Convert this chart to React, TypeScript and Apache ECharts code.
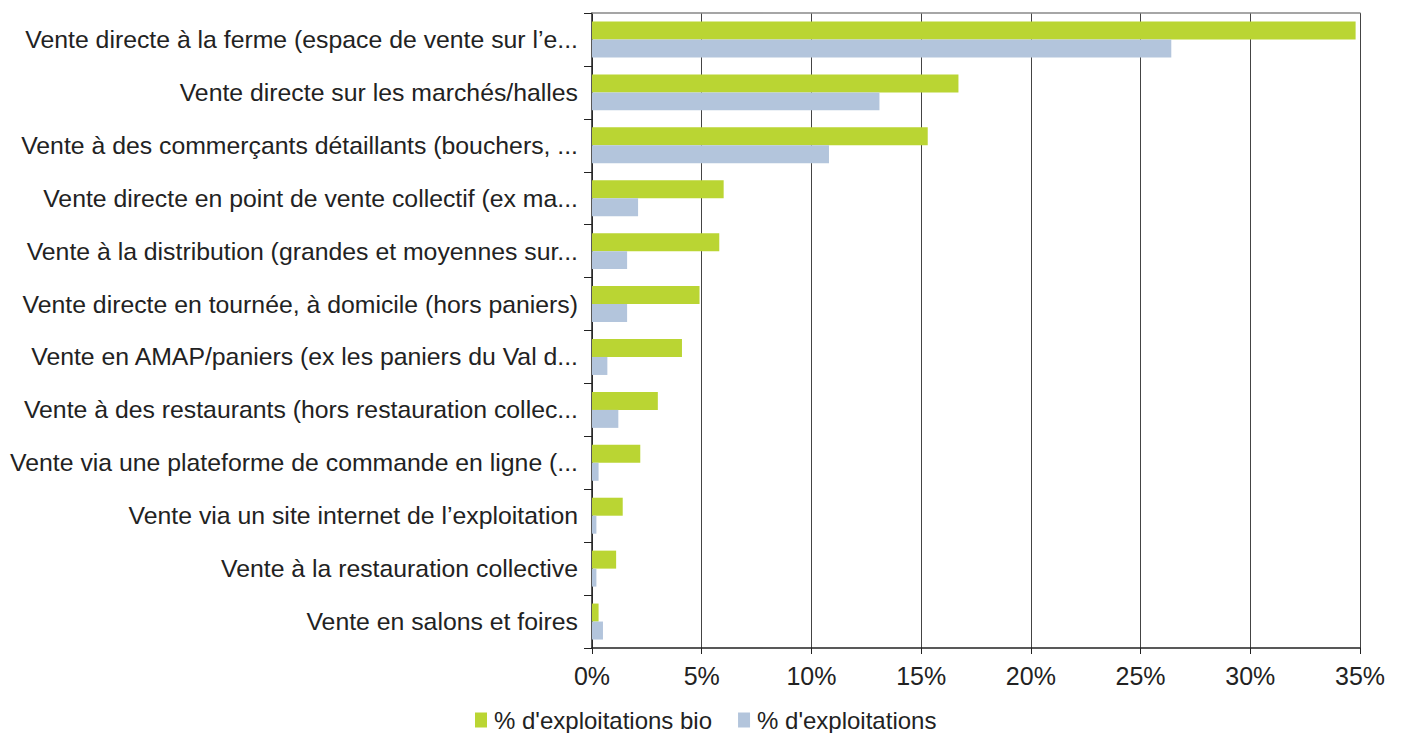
import React, { useEffect, useRef } from "react";
import * as echarts from "echarts";

const categories = [
  "Vente directe à la ferme (espace de vente sur l’e...",
  "Vente directe sur les marchés/halles",
  "Vente à des commerçants détaillants (bouchers, ...",
  "Vente directe en point de vente collectif (ex ma...",
  "Vente à la distribution (grandes et moyennes sur...",
  "Vente directe en tournée, à domicile (hors paniers)",
  "Vente en AMAP/paniers (ex les paniers du Val d...",
  "Vente à des restaurants (hors restauration collec...",
  "Vente via une plateforme de commande en ligne (...",
  "Vente via un site internet de l’exploitation",
  "Vente à la restauration collective",
  "Vente en salons et foires",
];

const bioValues = [34.8, 16.7, 15.3, 6.0, 5.8, 4.9, 4.1, 3.0, 2.2, 1.4, 1.1, 0.3];
const allValues = [26.4, 13.1, 10.8, 2.1, 1.6, 1.6, 0.7, 1.2, 0.3, 0.2, 0.2, 0.5];

const seriesNames = ["% d'exploitations bio", "% d'exploitations"];
const FONT = "'Liberation Sans', Arial, sans-serif";

export default function App() {
  const ref = useRef<HTMLDivElement>(null);
  useEffect(() => {
    if (!ref.current) return;
    const chart = echarts.init(ref.current, undefined, { renderer: "svg" });
    chart.setOption({
      animation: false,
      textStyle: { fontFamily: FONT },
      grid: { left: 592, right: 41, top: 13, bottom: 85, containLabel: false },
      legend: {
        left: 475,
        top: 708,
        padding: 0,
        icon: "rect",
        itemWidth: 12,
        itemHeight: 15,
        itemGap: 26,
        textStyle: {
          fontSize: 24,
          lineHeight: 22,
          color: "#222",
          fontFamily: FONT,
          padding: [0, 0, 0, 2],
        },
        data: seriesNames,
      },
      xAxis: [
        {
          type: "value",
          min: 0,
          max: 35,
          interval: 5,
          axisLine: { show: true, lineStyle: { color: "#222", width: 1.5 } },
          axisTick: { show: true, length: 6, lineStyle: { color: "#222" } },
          axisLabel: {
            formatter: "{value}%",
            fontSize: 25,
            color: "#222",
            margin: 15,
            fontFamily: FONT,
          },
          splitLine: { show: true, lineStyle: { color: "#444", width: 1 } },
        },
        {
          type: "value",
          position: "top",
          min: 0,
          max: 35,
          interval: 5,
          axisLine: { show: true, lineStyle: { color: "#888", width: 1.5 } },
          axisTick: { show: false },
          axisLabel: { show: false },
          splitLine: { show: false },
        },
      ],
      yAxis: {
        type: "category",
        inverse: true,
        data: categories,
        axisLine: { show: true, lineStyle: { color: "#222", width: 1.5 } },
        axisTick: { show: true, length: 8, lineStyle: { color: "#222" } },
        axisLabel: {
          fontSize: 24.8,
          color: "#222",
          margin: 14,
          fontFamily: FONT,
        },
      },
      series: [
        {
          name: seriesNames[0],
          type: "bar",
          data: bioValues,
          itemStyle: { color: "#BAD533" },
          barGap: "0%",
          barCategoryGap: "32%",
        },
        {
          name: seriesNames[1],
          type: "bar",
          data: allValues,
          itemStyle: { color: "#B3C5DC" },
          barGap: "0%",
          barCategoryGap: "32%",
        },
      ],
    });
    return () => chart.dispose();
  }, []);
  return (
    <div
      ref={ref}
      style={{ position: "fixed", left: 0, top: 0, width: 1401, height: 733, background: "#fff" }}
    />
  );
}
